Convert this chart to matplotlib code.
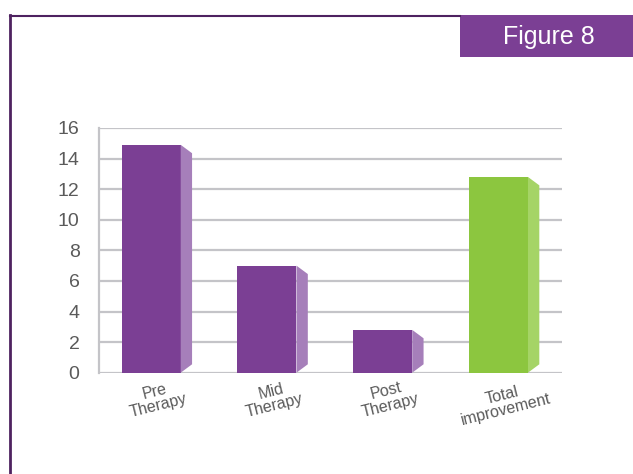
import matplotlib
matplotlib.use("Agg")
import matplotlib.pyplot as plt
from matplotlib.patches import Polygon, Rectangle
from matplotlib.lines import Line2D

categories = ["Pre\nTherapy", "Mid\nTherapy", "Post\nTherapy", "Total\nimprovement"]
values = [14.9, 7.0, 2.8, 12.8]
front_colors = ["#7b3f94", "#7b3f94", "#7b3f94", "#8cc63f"]
side_colors = ["#a67fba", "#a67fba", "#a67fba", "#a5d466"]
yticks = [0, 2, 4, 6, 8, 10, 12, 14, 16]

plt.rcParams["font.family"] = ["Liberation Sans", "DejaVu Sans"]

fig = plt.figure(figsize=(6.33, 4.74), dpi=100)
ax = fig.add_axes([99 / 633, 1 - 372.7 / 474, 463 / 633, 244.7 / 474])

front_w = 0.51
side_w = 0.098
depth = 0.55

for i, (v, fc, sc) in enumerate(zip(values, front_colors, side_colors)):
    left = i - (front_w + side_w) / 2
    right = left + front_w
    ax.add_patch(Rectangle((left, 0), front_w, v, facecolor=fc,
                           edgecolor="none", zorder=3))
    ax.add_patch(Polygon([(right, 0), (right + side_w, depth),
                          (right + side_w, v - depth), (right, v)],
                         closed=True, facecolor=sc, edgecolor="none", zorder=3))

ax.set_xlim(-0.5, 3.5)
ax.set_ylim(0, 16)
ax.set_yticks(yticks)
ax.set_yticklabels([str(t) for t in yticks], fontsize=14, color="#5a5a5a")
ax.set_xticks(range(len(categories)))
ax.set_xticklabels(categories, fontsize=11.5, color="#5a5a5a", rotation=14,
                   ha="center", linespacing=1.0)
ax.tick_params(axis="both", length=0)
ax.tick_params(axis="y", pad=14)
ax.tick_params(axis="x", pad=3)

ax.grid(axis="y", color="#c4c4c8", linewidth=1.6, zorder=0)
ax.set_axisbelow(True)
for side in ["top", "right", "bottom"]:
    ax.spines[side].set_visible(False)
ax.spines["left"].set_color("#c4c4c8")
ax.spines["left"].set_linewidth(1.6)

# page frame and figure tag
frame_color = "#4e2260"
fig.add_artist(Line2D([10 / 633, 10 / 633], [0, 1 - 15 / 474],
                      color=frame_color, linewidth=2, transform=fig.transFigure))
fig.add_artist(Line2D([10 / 633, 460 / 633], [1 - 15.5 / 474, 1 - 15.5 / 474],
                      color=frame_color, linewidth=1.5, transform=fig.transFigure))
fig.add_artist(Rectangle((460 / 633, 1 - 57 / 474), 173 / 633, 42 / 474,
                         facecolor="#7b3f94", edgecolor="none",
                         transform=fig.transFigure))
fig.text(549 / 633, 1 - 37 / 474, "Figure 8", color="white", fontsize=18,
         ha="center", va="center")

fig.savefig("out.png", dpi=100)
